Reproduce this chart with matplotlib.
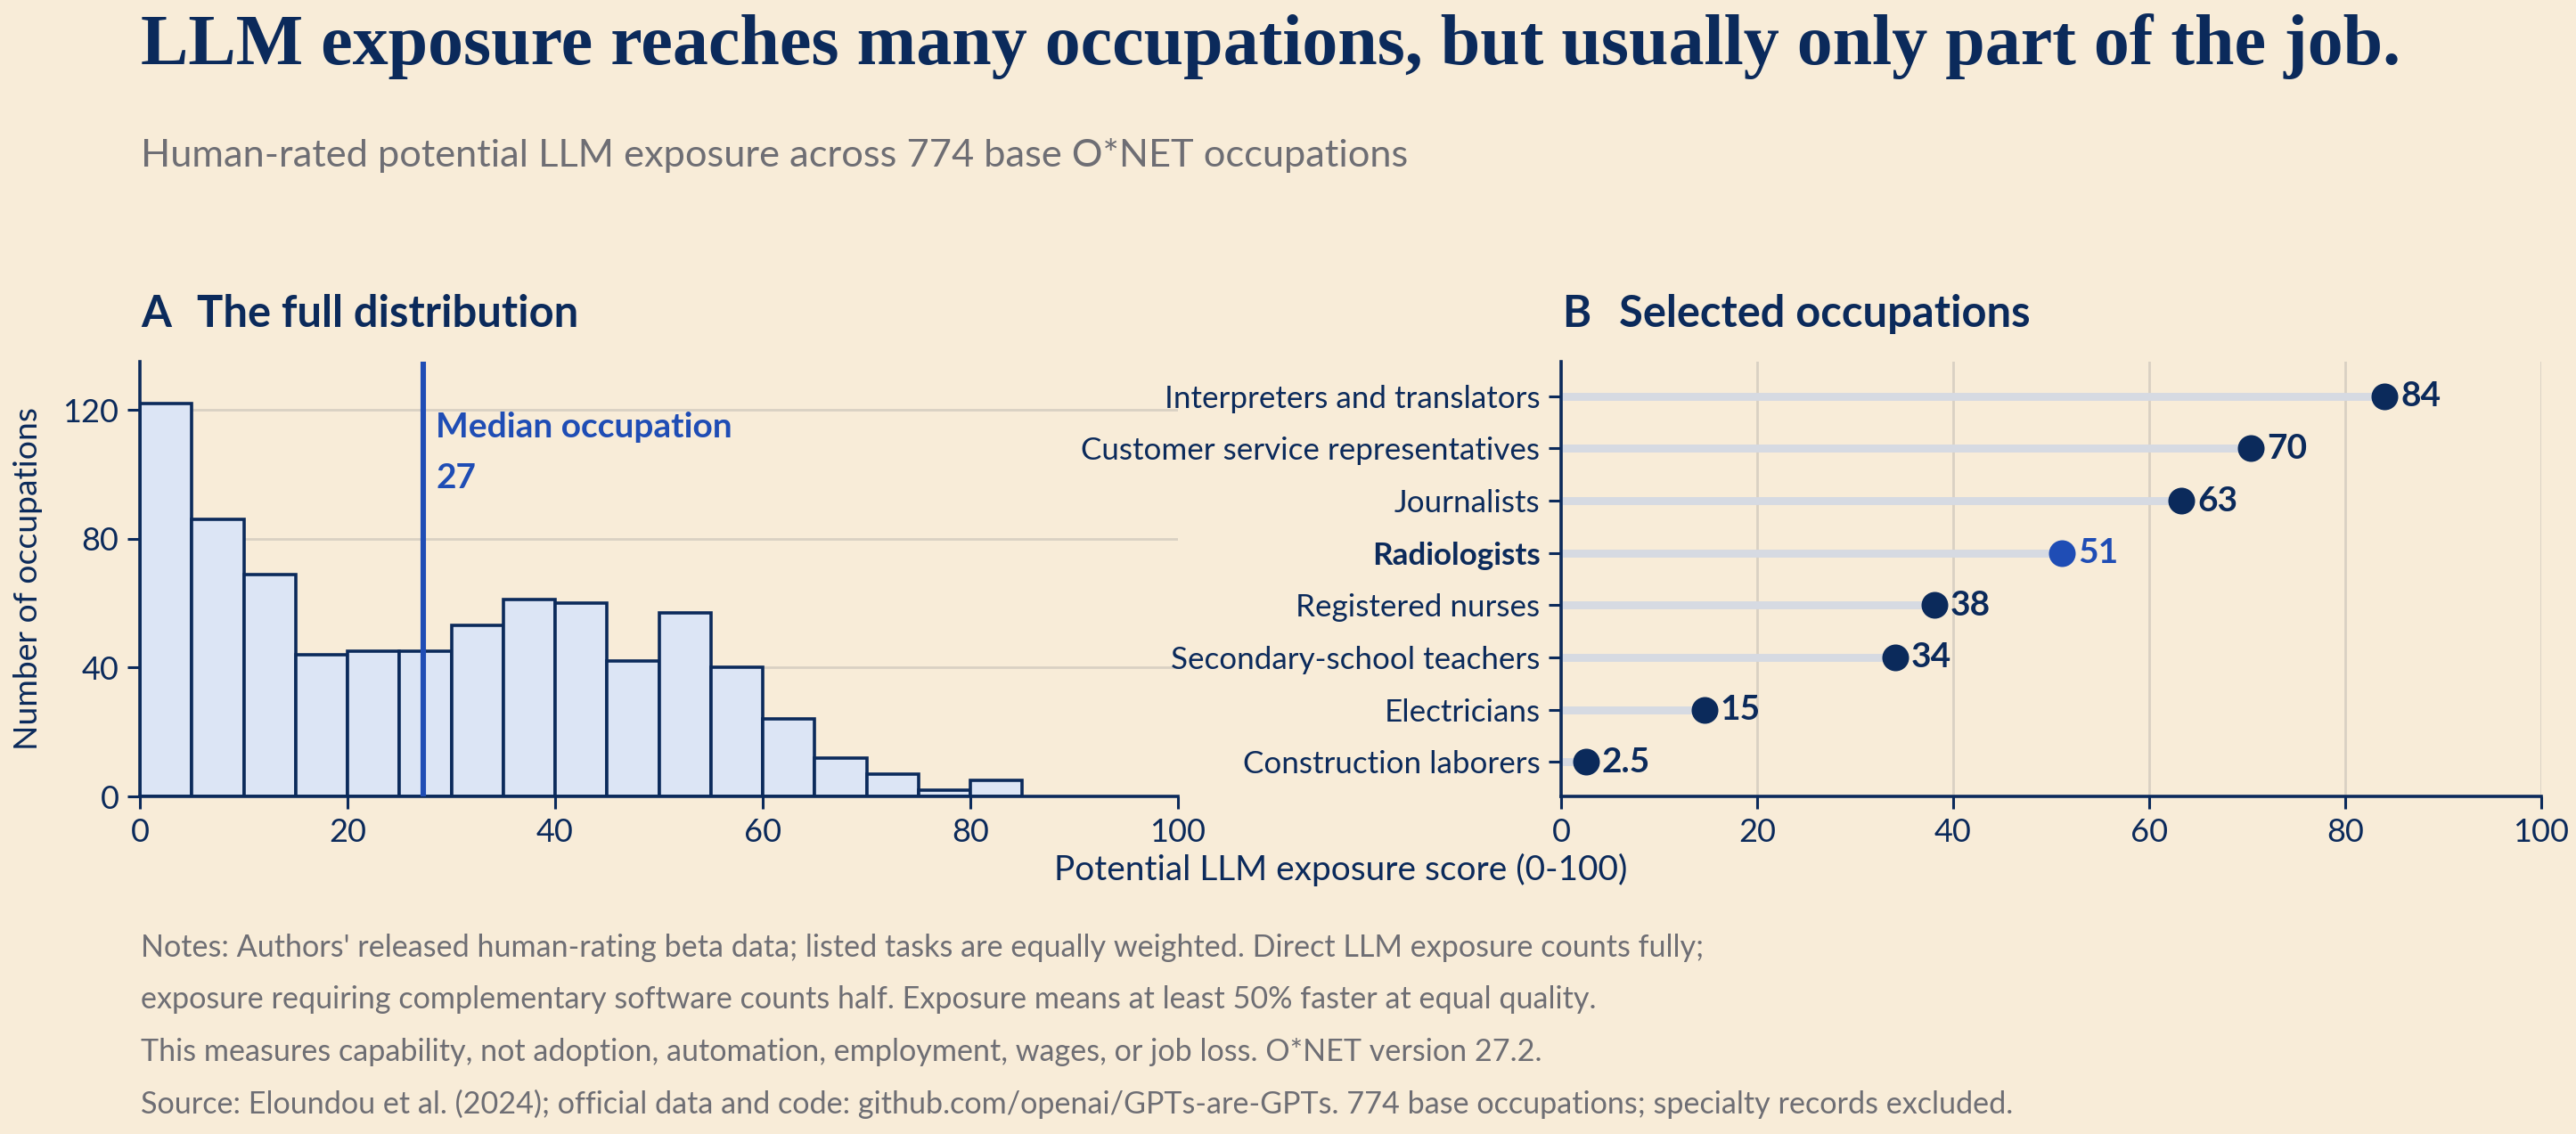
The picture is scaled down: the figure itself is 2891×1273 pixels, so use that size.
import matplotlib
matplotlib.use("Agg")
import matplotlib.pyplot as plt
import numpy as np

# ---------------- data ----------------
bin_edges = [0, 5, 10, 15, 20, 25, 30, 35, 40, 45, 50, 55, 60, 65, 70, 75, 80, 85]
bin_counts = [122, 86, 69, 44, 45, 45, 53, 61, 60, 42, 57, 40, 24, 12, 7, 2, 5]
median_score = 27.3

occupations = ["Interpreters and translators", "Customer service representatives",
               "Journalists", "Radiologists", "Registered nurses",
               "Secondary-school teachers", "Electricians", "Construction laborers"]
scores = [84.0, 70.4, 63.3, 51.1, 38.1, 34.1, 14.6, 2.5]
score_labels = ["84", "70", "63", "51", "38", "34", "15", "2.5"]
highlight = "Radiologists"

hist_yticks = [0, 40, 80, 120]
x_ticks = [0, 20, 40, 60, 80, 100]

title = "LLM exposure reaches many occupations, but usually only part of the job."
subtitle = "Human-rated potential LLM exposure across 774 base O*NET occupations"
notes = ["Notes: Authors' released human-rating beta data; listed tasks are equally weighted. Direct LLM exposure counts fully;",
         "exposure requiring complementary software counts half. Exposure means at least 50% faster at equal quality.",
         "This measures capability, not adoption, automation, employment, wages, or job loss. O*NET version 27.2.",
         "Source: Eloundou et al. (2024); official data and code: github.com/openai/GPTs-are-GPTs. 774 base occupations; specialty records excluded."]

# ---------------- style ----------------
BG = "#f8ecd8"
NAVY = "#0b2a5b"
BLUE = "#1f4db5"
FILL = "#dce5f5"
GRID = "#d9d1c3"
STEM = "#d6dae2"
GREY = "#6e6e74"
SANS = ["Lato", "DejaVu Sans"]
SERIF = ["Liberation Serif", "DejaVu Serif"]

plt.rcParams["font.family"] = SANS

W, H = 2891, 1273
DPI = 200
fig = plt.figure(figsize=(W / DPI, H / DPI), dpi=DPI, facecolor=BG)

def ax_rect(l, t, r, b):
    return [l / W, 1 - b / H, (r - l) / W, (b - t) / H]

axA = fig.add_axes(ax_rect(157, 406, 1322, 894))
axB = fig.add_axes(ax_rect(1752, 406, 2852, 894))

for ax in (axA, axB):
    ax.set_facecolor(BG)
    for s in ("top", "right"):
        ax.spines[s].set_visible(False)
    for s in ("left", "bottom"):
        ax.spines[s].set_color(NAVY)
        ax.spines[s].set_linewidth(1.3)
    ax.tick_params(colors=NAVY, labelcolor=NAVY, labelsize=13, width=1.1, length=5, direction="out")
    ax.set_axisbelow(True)

# ---- Panel A: histogram ----
widths = np.diff(bin_edges)
axA.bar(bin_edges[:-1], bin_counts, width=widths, align="edge",
        color=FILL, edgecolor=NAVY, linewidth=1.3, zorder=2)
axA.set_xlim(0, 100)
axA.set_ylim(0, 135)
axA.set_xticks(x_ticks)
axA.set_yticks(hist_yticks)
axA.yaxis.grid(True, color=GRID, linewidth=1.0, zorder=0)
axA.axvline(median_score, color=BLUE, linewidth=2.2, zorder=3)
axA.text(median_score + 1.2, 119.5, f"Median occupation\n{round(median_score)}", color=BLUE,
         fontsize=14, fontweight="bold", ha="left", va="top", linespacing=1.75)
axA.set_ylabel("Number of occupations", color=NAVY, fontsize=13.4, labelpad=8)

# ---- Panel B: lollipop ----
ypos = np.arange(len(occupations))[::-1]
axB.set_xlim(0, 100)
axB.set_ylim(-0.66, len(occupations) - 1 + 0.66)
axB.set_xticks(x_ticks)
axB.xaxis.grid(True, color=GRID, linewidth=1.0, zorder=0)
axB.hlines(ypos, 0, scores, color=STEM, linewidth=3.2, zorder=1)
for y, v, lab, name in zip(ypos, scores, score_labels, occupations):
    c = BLUE if name == highlight else NAVY
    axB.plot(v, y, "o", color=c, markersize=9.8, zorder=3, clip_on=False)
    axB.annotate(lab, (v, y), xytext=(6.5, 0), textcoords="offset points",
                 color=c, fontsize=14, fontweight="bold", ha="left", va="center")
axB.set_yticks(ypos)
axB.set_yticklabels(occupations, fontsize=12.6)
for tl, name in zip(axB.get_yticklabels(), occupations):
    if name == highlight:
        tl.set_fontweight("bold")

# ---- texts ----
fig.text(158 / W, 1 - 72 / H, title, fontsize=28.8, fontweight="bold", color=NAVY,
         family=SERIF, ha="left", va="baseline")
fig.text(158 / W, 1 - 187 / H, subtitle, fontsize=15.6, color=GREY, ha="left", va="baseline")
fig.text(158 / W, 1 - 367 / H, "A", fontsize=17.6, fontweight="bold", color=NAVY, ha="left", va="baseline")
fig.text(221 / W, 1 - 367 / H, "The full distribution", fontsize=17.6, fontweight="bold", color=NAVY, ha="left", va="baseline")
fig.text(1753 / W, 1 - 367 / H, "B", fontsize=17.6, fontweight="bold", color=NAVY, ha="left", va="baseline")
fig.text(1817 / W, 1 - 367 / H, "Selected occupations", fontsize=17.6, fontweight="bold", color=NAVY, ha="left", va="baseline")
fig.text(1505 / W, 1 - 988 / H, "Potential LLM exposure score (0-100)", fontsize=14, color=NAVY,
         ha="center", va="baseline")
for i, line in enumerate(notes):
    fig.text(158 / W, 1 - (1074 + 58.5 * i) / H, line, fontsize=12.3, color=GREY, ha="left", va="baseline")

fig.savefig("out.png", dpi=DPI, facecolor=BG)
